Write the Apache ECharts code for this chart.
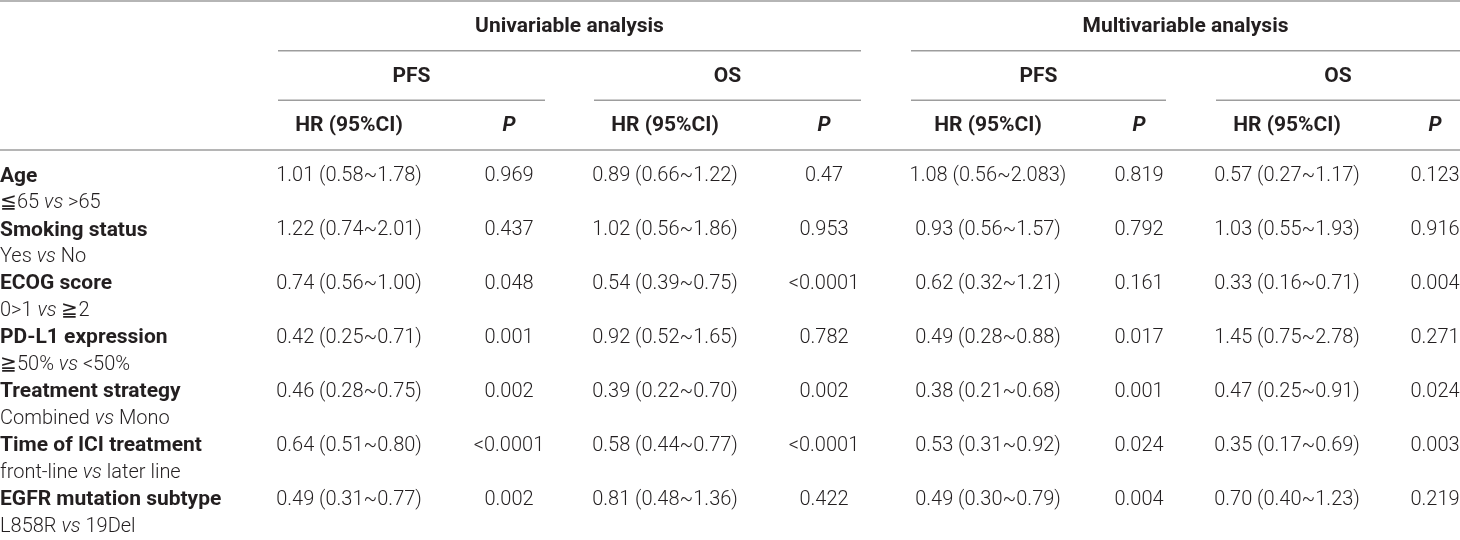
<!DOCTYPE html>
<html>
<head>
<meta charset="utf-8">
<script src="https://cdn.jsdelivr.net/npm/echarts@6/dist/echarts.min.js"></script>
<style>
  html, body { margin: 0; padding: 0; background: #fff; }
  #main { width: 1460px; height: 540px; }
</style>
</head>
<body>
<div id="main"></div>
<script>
// table content
var groups = ['Univariable analysis', 'Multivariable analysis'];
var endpoints = ['PFS', 'OS'];
var statCols = ['HR (95%CI)', 'P'];
var factors = ['Age', 'Smoking status', 'ECOG score', 'PD-L1 expression',
  'Treatment strategy', 'Time of ICI treatment', 'EGFR mutation subtype'];
var comparisons = ['≦65 vs >65', 'Yes vs No', '0>1 vs ≧2', '≧50% vs <50%',
  'Combined vs Mono', 'front-line vs later line', 'L858R vs 19Del'];

var uniPfsHR = ['1.01 (0.58~1.78)', '1.22 (0.74~2.01)', '0.74 (0.56~1.00)', '0.42 (0.25~0.71)',
  '0.46 (0.28~0.75)', '0.64 (0.51~0.80)', '0.49 (0.31~0.77)'];
var uniPfsP = ['0.969', '0.437', '0.048', '0.001', '0.002', '<0.0001', '0.002'];
var uniOsHR = ['0.89 (0.66~1.22)', '1.02 (0.56~1.86)', '0.54 (0.39~0.75)', '0.92 (0.52~1.65)',
  '0.39 (0.22~0.70)', '0.58 (0.44~0.77)', '0.81 (0.48~1.36)'];
var uniOsP = ['0.47', '0.953', '<0.0001', '0.782', '0.002', '<0.0001', '0.422'];
var mvPfsHR = ['1.08 (0.56~2.083)', '0.93 (0.56~1.57)', '0.62 (0.32~1.21)', '0.49 (0.28~0.88)',
  '0.38 (0.21~0.68)', '0.53 (0.31~0.92)', '0.49 (0.30~0.79)'];
var mvPfsP = ['0.819', '0.792', '0.161', '0.017', '0.001', '0.024', '0.004'];
var mvOsHR = ['0.57 (0.27~1.17)', '1.03 (0.55~1.93)', '0.33 (0.16~0.71)', '1.45 (0.75~2.78)',
  '0.47 (0.25~0.91)', '0.35 (0.17~0.69)', '0.70 (0.40~1.23)'];
var mvOsP = ['0.123', '0.916', '0.004', '0.271', '0.024', '0.003', '0.219'];

var valueCols = [uniPfsHR, uniPfsP, uniOsHR, uniOsP, mvPfsHR, mvPfsP, mvOsHR, mvOsP];

// layout (x axis units = table width)
var TABLE_W = 1460;
var colCenters = [349, 509, 665, 824, 988, 1139, 1287, 1435];
var endpointSpans = [[278, 545], [594, 861], [911, 1166], [1216, 1460]];

var FONT = 'Roboto, "Liberation Sans", sans-serif';
var TXT = '#231f20';
var RULE = '#9d9d9d';

// header cells: [x, level], text kept alongside
var headCells = [];
groups.forEach(function (g, gi) {
  var a = endpointSpans[gi * 2][0], b = endpointSpans[gi * 2 + 1][1];
  headCells.push({ value: [(a + b) / 2, 0], text: g, italic: false });
  endpoints.forEach(function (e, ei) {
    var s = endpointSpans[gi * 2 + ei];
    headCells.push({ value: [(s[0] + s[1]) / 2, 1], text: e, italic: false });
    statCols.forEach(function (c, ci) {
      var k = gi * 4 + ei * 2 + ci;
      headCells.push({ value: [colCenters[k], 2], text: c, italic: c === 'P' });
    });
  });
});

// rules: [x1, x2, level, edge] edge 0 = top of band, 1 = bottom
var rules = [{ value: [0, TABLE_W, 0, 0] }];
groups.forEach(function (g, gi) {
  rules.push({ value: [endpointSpans[gi * 2][0], endpointSpans[gi * 2 + 1][1], 0, 1] });
});
endpointSpans.forEach(function (s) { rules.push({ value: [s[0], s[1], 1, 1] }); });
rules.push({ value: [0, TABLE_W, 2, 1] });

// body cells
var bodyRows = [];
factors.forEach(function (f, i) { bodyRows.push(f); bodyRows.push(comparisons[i]); });
var bodyCells = [];
factors.forEach(function (f, i) {
  bodyCells.push({ value: [0, i * 2], text: f, kind: 'factor' });
  bodyCells.push({ value: [0, i * 2 + 1], text: comparisons[i].replace(' vs ', ' {i|vs} '), kind: 'cmp' });
  valueCols.forEach(function (col, c) {
    bodyCells.push({ value: [colCenters[c], i * 2], text: col[i], kind: 'val' });
  });
});

var chart = echarts.init(document.getElementById('main'));

chart.setOption({
  backgroundColor: '#fff',
  animation: false,
  grid: [
    { left: 0, right: 0, top: 1, height: 149 },
    { left: 0, right: 0, top: 163, height: 384 }
  ],
  xAxis: [
    { type: 'value', gridIndex: 0, min: 0, max: TABLE_W, show: false },
    { type: 'value', gridIndex: 1, min: 0, max: TABLE_W, show: false }
  ],
  yAxis: [
    { type: 'category', gridIndex: 0, inverse: true, data: ['group', 'endpoint', 'stat'], show: false },
    { type: 'category', gridIndex: 1, inverse: true, data: bodyRows, show: false }
  ],
  series: [
    {
      type: 'custom',
      xAxisIndex: 0, yAxisIndex: 0,
      data: rules,
      renderItem: function (params, api) {
        var p1 = api.coord([api.value(0), api.value(2)]);
        var p2 = api.coord([api.value(1), api.value(2)]);
        var h = api.size([0, 1])[1];
        var y = p1[1] + (api.value(3) ? h / 2 : -h / 2);
        return {
          type: 'line',
          shape: { x1: p1[0], y1: y, x2: p2[0], y2: y },
          style: { stroke: RULE, lineWidth: 1.5 }
        };
      }
    },
    {
      type: 'custom',
      xAxisIndex: 0, yAxisIndex: 0,
      data: headCells,
      renderItem: function (params, api) {
        var cell = headCells[params.dataIndex];
        var p = api.coord([api.value(0), api.value(1)]);
        return {
          type: 'text',
          x: p[0], y: p[1] + 1,
          style: {
            text: cell.text,
            fill: TXT,
            fontFamily: FONT,
            fontSize: 21,
            fontWeight: 'bold',
            fontStyle: cell.italic ? 'italic' : 'normal',
            align: 'center',
            verticalAlign: 'middle'
          }
        };
      }
    },
    {
      type: 'custom',
      xAxisIndex: 1, yAxisIndex: 1,
      data: bodyCells,
      renderItem: function (params, api) {
        var cell = bodyCells[params.dataIndex];
        var p = api.coord([api.value(0), api.value(1)]);
        var st = {
          text: cell.text,
          fill: TXT,
          fontFamily: FONT,
          fontSize: cell.kind === 'factor' ? 21 : 20,
          fontWeight: cell.kind === 'factor' ? 'bold' : 300,
          align: cell.kind === 'val' ? 'center' : 'left',
          verticalAlign: 'middle'
        };
        if (cell.kind === 'cmp') {
          st.rich = {
            i: { fontFamily: FONT, fontSize: 20, fontWeight: 300, fontStyle: 'italic', fill: TXT }
          };
        }
        return { type: 'text', x: p[0], y: p[1], style: st };
      }
    }
  ]
});
</script>
</body>
</html>
